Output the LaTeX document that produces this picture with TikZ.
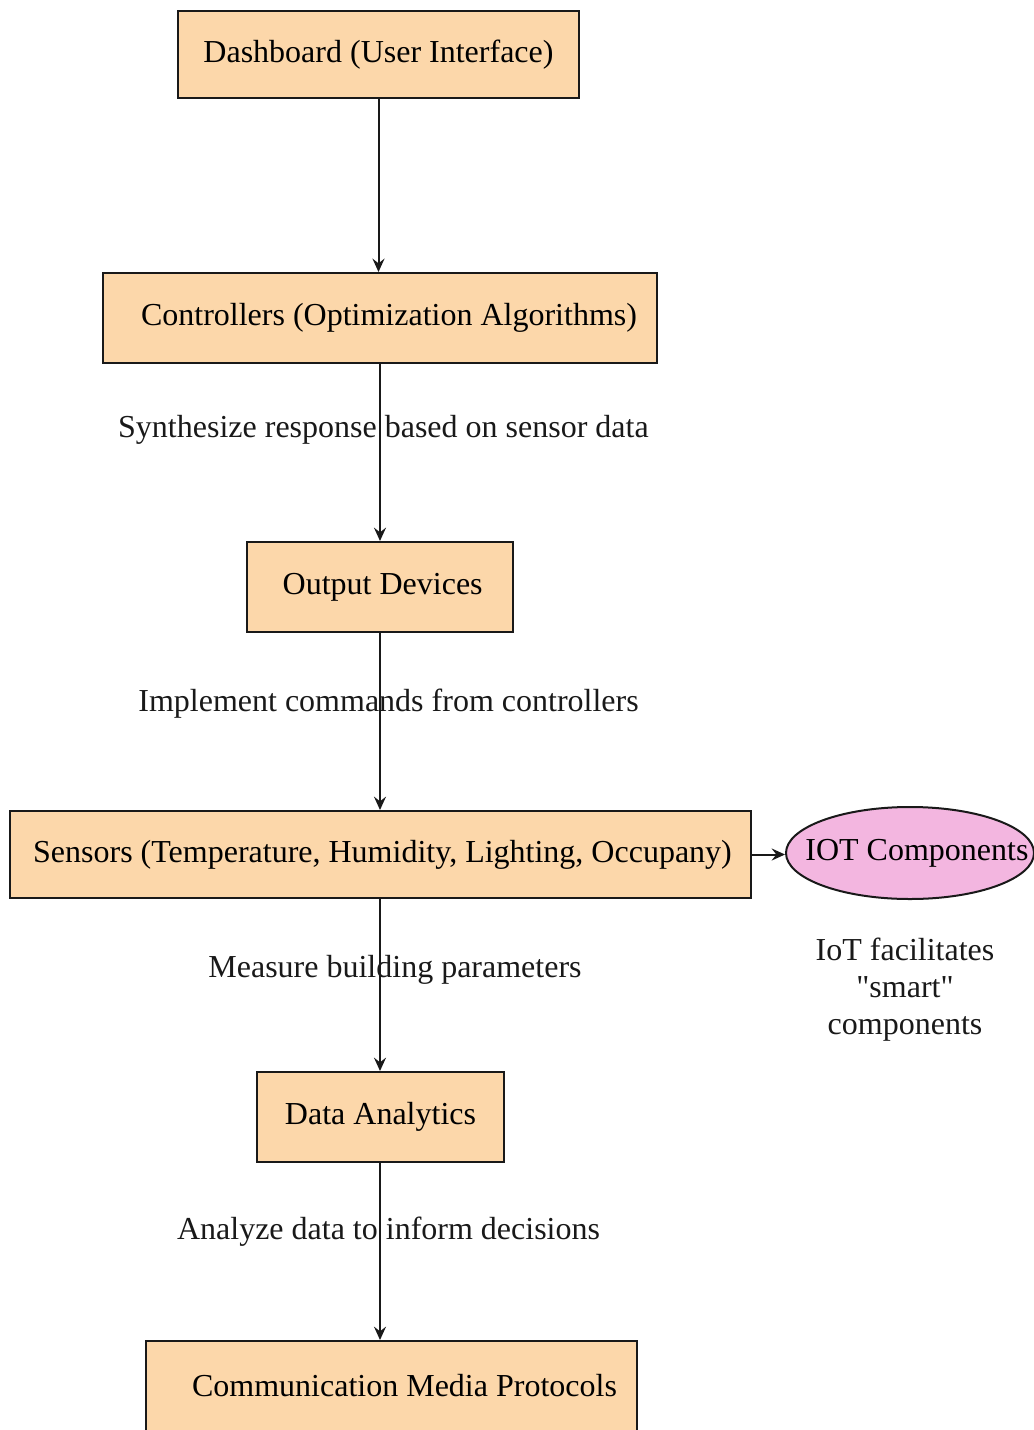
\documentclass[tikz,border=0pt]{standalone}
\usepackage{fontspec}
\setmainfont{Liberation Serif}[Ligatures=TeXOff]
\usetikzlibrary{arrows.meta,shapes.geometric}
\definecolor{peach}{RGB}{252,215,170}
\definecolor{pinkfill}{RGB}{243,182,224}
\definecolor{ink}{RGB}{25,25,25}
\begin{document}
\begin{tikzpicture}[x=0.75pt,y=-0.75pt,
  font=\fontsize{24}{27.75}\selectfont,
  box/.style={draw=ink, line width=1.5pt, fill=peach, inner sep=0pt, anchor=center},
  arr/.style={draw=ink, line width=1.5pt, -{Stealth[length=10pt,width=9pt,inset=3.5pt]}},
  lbl/.style={inner sep=0pt, text=ink},
  note/.style={inner sep=0pt, align=center, text=ink}]
\useasboundingbox (0,0) rectangle (1034,1430);
\node[box, minimum width=300.75pt, minimum height=65.25pt] (b1) at (378.5,54.5) {Dashboard (User Interface)};
\node[box, minimum width=415.5pt, minimum height=67.5pt] (b2) at (380,318) {\raisebox{-2pt}{\hspace*{13.5pt}Controllers (Optimization Algorithms)}};
\node[box, minimum width=199.5pt, minimum height=67.5pt] (b3) at (380,587) {\hspace*{4pt}Output Devices};
\node[box, minimum width=555.75pt, minimum height=65.25pt] (b4) at (380.5,854.5) {\hspace*{3pt}Sensors (Temperature, Humidity, Lighting, Occupany)};
\node[box, minimum width=185.25pt, minimum height=67.5pt] (b5) at (380.5,1117) {Data Analytics};
\node[box, minimum width=368.25pt, minimum height=67.5pt] (b6) at (391.5,1386) {\hspace*{19.5pt}Communication Media Protocols};
\node[ellipse, draw=ink, line width=1.5pt, fill=pinkfill, inner sep=0pt, minimum width=186pt, minimum height=69pt] (iot) at (910,853) {\makebox[0pt]{\hspace*{10.5pt}IOT Components}};
\node[note] (nt) at (905,990) {IoT facilitates\\"smart"\\components};
\draw[arr] (b1.south) -- (b1.south |- b2.north);
\draw[arr] (b2.south) -- node[lbl, pos=0.357, xshift=2.6pt, yshift=-2pt] {Synthesize response based on sensor data} (b2.south |- b3.north);
\draw[arr] (b3.south) -- node[lbl, pos=0.385, xshift=6.4pt, yshift=-2pt] {Implement commands from controllers} (b3.south |- b4.north);
\draw[arr] (b4.south -| b3.south) -- node[lbl, pos=0.397, xshift=11.25pt, yshift=-2pt] {Measure building parameters} (b3.south |- b5.north);
\draw[arr] (b5.south -| b3.south) -- node[lbl, pos=0.374, xshift=6.4pt, yshift=-2pt] {Analyze data to inform decisions} (b3.south |- b6.north);
\draw[arr] (b4.east) -- (b4.east -| iot.west);
\end{tikzpicture}
\end{document}
